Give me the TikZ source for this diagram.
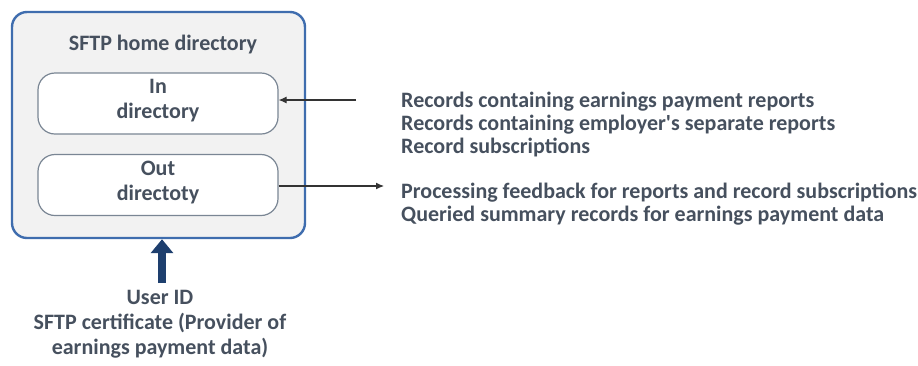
\documentclass[tikz,border=0pt]{standalone}
\usepackage{fontspec}
\setmainfont{Carlito}
\usetikzlibrary{arrows.meta}
\definecolor{txt}{HTML}{46505E}
\definecolor{outerblue}{HTML}{3F6DAE}
\definecolor{innergray}{HTML}{7A8694}
\definecolor{bgray}{HTML}{F2F2F2}
\definecolor{navy}{HTML}{1E3F6E}
\tikzset{
  lbl/.style={font=\bfseries\fontsize{22}{23}\selectfont, text=txt, inner sep=0pt},
  lblw/.style={font=\bfseries\fontsize{22}{25}\selectfont, text=txt, inner sep=0pt},
  dirbox/.style={draw=innergray, line width=1.2pt, fill=white, rounded corners=17pt, minimum width=240pt, minimum height=61pt, inner sep=0pt},
  thinarrow/.style={draw=black!80, line width=1.1pt, -{Latex[length=8pt,width=7pt]}},
}
\begin{document}
\begin{tikzpicture}[x=1pt,y=-1pt]
\useasboundingbox (0,0) rectangle (918,365);
\node[draw=outerblue, line width=2.4pt, fill=bgray, rounded corners=15pt, minimum width=293pt, minimum height=226pt] (home) at (158.5,125) {};
\node[lbl, anchor=base] (title) at (163,50) {SFTP home directory};
\node[dirbox] (in) at (158,103.5) {};
\node[lblw, align=center, anchor=base] (intxt) at (158,118) {In\\directory};
\node[dirbox] (out) at (158,185) {};
\node[lblw, align=center, anchor=base] (outtxt) at (158,200) {Out\\directoty};
\coordinate (inS) at (356,100);
\coordinate (outE) at (384,186);
\draw[thinarrow] (inS) -- (in.east |- inS);
\draw[thinarrow] (out.east |- outE) -- (outE);
\node[lbl, align=left, anchor=base west] (intext) at (401,153) {Records containing earnings payment reports\\Records containing employer\textquotesingle s separate reports\\Record subscriptions};
\node[lbl, align=left, anchor=base west] (outtext) at (401,221) {Processing feedback for reports and record subscriptions\\Queried summary records for earnings payment data};
\node[lblw, align=center, anchor=base] (user) at (160,354) {User ID\\SFTP certificate (Provider of\\earnings payment data)};
\draw[navy, line width=8pt, -{Triangle[length=14pt,width=22pt]}] (162,283) -- (home.south -| 162,0);
\end{tikzpicture}
\end{document}
